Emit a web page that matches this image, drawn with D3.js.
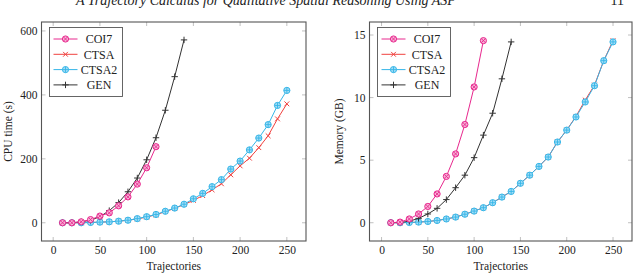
<!doctype html>
<html lang="en">
<head>
<meta charset="UTF-8">
<title>CPU time and memory</title>
<script src="https://cdn.jsdelivr.net/npm/d3@7"></script>
<style>
  html, body { margin: 0; padding: 0; background: #fff; }
  svg text { font-family: "Liberation Serif", "DejaVu Serif", serif; fill: #222; }
</style>
</head>
<body>
<script>
  // x values (number of trajectories)
  var trajShort = [10, 20, 30, 40, 50, 60, 70, 80, 90, 100, 110];
  var trajMid = [10, 20, 30, 40, 50, 60, 70, 80, 90, 100, 110, 120, 130, 140];
  var trajLong = [10, 20, 30, 40, 50, 60, 70, 80, 90, 100, 110, 120, 130, 140, 150, 160, 170, 180, 190, 200, 210, 220, 230, 240, 250];

  // CPU time (s)
  var cpuCOI7 = [0, 0, 3, 10, 21, 31, 53, 81, 121, 172, 238];
  var cpuCTSA = [0, 0, 0, 1, 2, 3, 5, 8, 12, 18, 25, 35, 45, 57, 70, 85, 103, 122, 150, 178, 202, 235, 272, 325, 372];
  var cpuCTSA2 = [0, 0, 0, 1, 2, 3, 5, 8, 13, 19, 26, 36, 46, 58, 75, 92, 113, 135, 168, 193, 228, 265, 307, 367, 414];
  var cpuGEN = [0, 0, 3, 8, 19, 38, 63, 97, 140, 197, 266, 352, 457, 572];

  // Memory (GB)
  var memCOI7 = [0, 0.05, 0.3, 0.7, 1.3, 2.3, 3.7, 5.5, 7.85, 10.85, 14.55];
  var memCTSA = [0, 0, 0.02, 0.05, 0.1, 0.18, 0.3, 0.45, 0.68, 0.93, 1.2, 1.6, 2.05, 2.5, 3.15, 3.8, 4.5, 5.25, 6.45, 7.4, 8.5, 9.8, 11.0, 12.95, 14.55];
  var memCTSA2 = [0, 0, 0.02, 0.05, 0.1, 0.18, 0.3, 0.45, 0.68, 0.93, 1.2, 1.6, 2.05, 2.5, 3.15, 3.8, 4.5, 5.25, 6.45, 7.4, 8.45, 9.65, 10.95, 12.95, 14.45];
  var memGEN = [0, 0.02, 0.12, 0.35, 0.7, 1.15, 1.85, 2.8, 3.8, 5.2, 7.0, 8.75, 11.5, 14.45];

  var seriesNames = ["COI7", "CTSA", "CTSA2", "GEN"];
  var xTicks = [0, 50, 100, 150, 200, 250];
  var cpuTicks = [0, 200, 400, 600];
  var memTicks = [0, 5, 10, 15];

  var headerText = "A Trajectory Calculus for Qualitative Spatial Reasoning Using ASP";
  var pageNumber = "11";

  var width = 640, height = 275;
  var colors = {COI7: "#e8288e", CTSA: "#f0413f", CTSA2: "#35b6e8", GEN: "#333333"};
  var fills = {COI7: "#f7b3d6", CTSA2: "#a6def6"};

  var svg = d3.select("body").append("svg")
      .attr("width", width)
      .attr("height", height);

  // running header of the page (clipped at the top, as in the scan)
  svg.append("text")
      .attr("x", 76).attr("y", 5)
      .style("font-size", "14px")
      .style("font-style", "italic")
      .text(headerText);
  svg.append("text")
      .attr("x", 624).attr("y", 5)
      .attr("text-anchor", "end")
      .style("font-size", "14px")
      .text(pageNumber);

  function marker(g, name, color) {
    if (name === "COI7" || name === "CTSA2") {
      g.append("circle").attr("r", 3.1)
          .attr("fill", fills[name]).attr("stroke", color).attr("stroke-width", 1);
      var d = name === "COI7" ? 2.1 : 2.9;
      var p = name === "COI7"
          ? "M" + (-d) + "," + (-d) + "L" + d + "," + d + "M" + (-d) + "," + d + "L" + d + "," + (-d)
          : "M" + (-d) + ",0L" + d + ",0M0," + (-d) + "L0," + d;
      g.append("path").attr("d", p).attr("stroke", color).attr("stroke-width", 0.9).attr("fill", "none");
    } else if (name === "CTSA") {
      g.append("path").attr("d", "M-2.4,-2.4L2.4,2.4M-2.4,2.4L2.4,-2.4")
          .attr("stroke", color).attr("stroke-width", 1).attr("fill", "none");
    } else {
      g.append("path").attr("d", "M-3.2,0L3.2,0M0,-3.2L0,3.2")
          .attr("stroke", color).attr("stroke-width", 1).attr("fill", "none");
    }
  }

  function panel(cfg) {
    var x = d3.scaleLinear().domain(cfg.xDomain).range([cfg.left, cfg.right]);
    var y = d3.scaleLinear().domain(cfg.yDomain).range([cfg.bottom, cfg.top]);
    var g = svg.append("g");

    // inner tick marks
    var tk = g.append("g").attr("stroke", "#b0b0b0").attr("stroke-width", 0.8);
    xTicks.forEach(function(t) {
      tk.append("line").attr("x1", x(t)).attr("x2", x(t)).attr("y1", cfg.bottom).attr("y2", cfg.bottom - 4);
      tk.append("line").attr("x1", x(t)).attr("x2", x(t)).attr("y1", cfg.top).attr("y2", cfg.top + 4);
    });
    cfg.yTicks.forEach(function(t) {
      tk.append("line").attr("y1", y(t)).attr("y2", y(t)).attr("x1", cfg.left).attr("x2", cfg.left + 4);
      tk.append("line").attr("y1", y(t)).attr("y2", y(t)).attr("x1", cfg.right).attr("x2", cfg.right - 4);
    });

    // tick labels via d3 axes
    var ax = g.append("g").attr("transform", "translate(0," + cfg.bottom + ")")
        .call(d3.axisBottom(x).tickValues(xTicks).tickSize(0).tickPadding(5).tickFormat(d3.format("d")));
    var ay = g.append("g").attr("transform", "translate(" + cfg.left + ",0)")
        .call(d3.axisLeft(y).tickValues(cfg.yTicks).tickSize(0).tickPadding(4).tickFormat(d3.format("d")));
    [ax, ay].forEach(function(a) {
      a.select(".domain").remove();
      a.selectAll("text").style("font-size", "11.5px").style("font-family", "Liberation Serif").attr("fill", "#222");
    });

    // lines and markers
    var line = d3.line().x(function(d) { return x(d[0]); }).y(function(d) { return y(d[1]); });
    var order = ["CTSA", "CTSA2", "GEN", "COI7"];
    order.forEach(function(name) {
      var s = cfg.series[name];
      var pts = d3.zip(s.x, s.y);
      g.append("path").datum(pts)
          .attr("d", line)
          .attr("fill", "none")
          .attr("stroke", colors[name])
          .attr("stroke-width", 1);
      pts.forEach(function(p) {
        marker(g.append("g").attr("transform", "translate(" + x(p[0]) + "," + y(p[1]) + ")"), name, colors[name]);
      });
    });

    // frame
    g.append("rect")
        .attr("x", cfg.left).attr("y", cfg.top)
        .attr("width", cfg.right - cfg.left).attr("height", cfg.bottom - cfg.top)
        .attr("fill", "none").attr("stroke", "#555").attr("stroke-width", 1.1);

    // legend
    var lg = g.append("g").attr("transform", "translate(" + cfg.legendX + "," + cfg.legendY + ")");
    lg.append("rect").attr("width", 73).attr("height", 69)
        .attr("fill", "#fff").attr("stroke", "#555").attr("stroke-width", 0.9);
    seriesNames.forEach(function(name, i) {
      var row = lg.append("g").attr("transform", "translate(0," + (11.5 + i * 15.3) + ")");
      row.append("line").attr("x1", 4).attr("x2", 28).attr("y1", 0).attr("y2", 0)
          .attr("stroke", colors[name]).attr("stroke-width", 1);
      marker(row.append("g").attr("transform", "translate(16,0)"), name, colors[name]);
      row.append("text").attr("x", 49.5).attr("y", 4.2)
          .attr("text-anchor", "middle")
          .style("font-size", "12px")
          .text(name);
    });

    // axis titles
    g.append("text")
        .attr("x", (cfg.left + cfg.right) / 2).attr("y", 270)
        .attr("text-anchor", "middle")
        .style("font-size", "11.5px")
        .text("Trajectories");
    g.append("text")
        .attr("transform", "translate(" + cfg.yLabelX + "," + ((cfg.top + cfg.bottom) / 2) + ") rotate(-90)")
        .attr("text-anchor", "middle")
        .style("font-size", "11.5px")
        .text(cfg.yLabel);
  }

  panel({
    left: 41.5, right: 306, top: 22, bottom: 241,
    xDomain: [-12.5, 270.5], yDomain: [-57, 628],
    yTicks: cpuTicks, yLabel: "CPU time (s)", yLabelX: 12,
    legendX: 49.5, legendY: 27.5,
    series: {
      COI7: {x: trajShort, y: cpuCOI7},
      CTSA: {x: trajLong, y: cpuCTSA},
      CTSA2: {x: trajLong, y: cpuCTSA2},
      GEN: {x: trajMid, y: cpuGEN}
    }
  });

  panel({
    left: 369.5, right: 632, top: 22, bottom: 241,
    xDomain: [-13, 270.5], yDomain: [-1.46, 16.04],
    yTicks: memTicks, yLabel: "Memory (GB)", yLabelX: 343,
    legendX: 377.5, legendY: 27.5,
    series: {
      COI7: {x: trajShort, y: memCOI7},
      CTSA: {x: trajLong, y: memCTSA},
      CTSA2: {x: trajLong, y: memCTSA2},
      GEN: {x: trajMid, y: memGEN}
    }
  });
</script>
</body>
</html>
